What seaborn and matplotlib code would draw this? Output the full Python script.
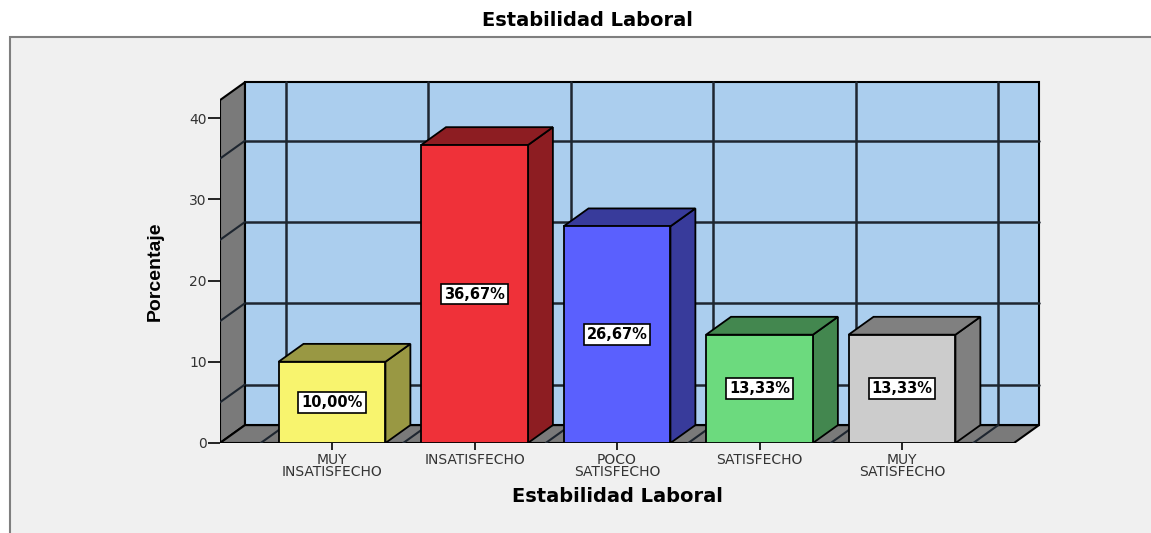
import matplotlib
matplotlib.use("Agg")
import matplotlib.pyplot as plt
from matplotlib.patches import Polygon, Rectangle
import seaborn as sns
import pandas as pd

# data
categorias = ["MUY\nINSATISFECHO", "INSATISFECHO", "POCO\nSATISFECHO", "SATISFECHO", "MUY\nSATISFECHO"]
porcentajes = [10.00, 36.67, 26.67, 13.33, 13.33]
etiquetas = ["10,00%", "36,67%", "26,67%", "13,33%", "13,33%"]
yticks = [0, 10, 20, 30, 40]
front_colors = ["#F8F46E", "#EF3139", "#5A60FE", "#6CDA7E", "#CCCCCC"]
side_colors = ["#999843", "#8D1D22", "#383B9B", "#43874F", "#808080"]

sns.set_style("white")
plt.rcParams["font.family"] = ["DejaVu Sans"]

W, H = 1151, 533
fig = plt.figure(figsize=(W / 100, H / 100), dpi=100)
fig.patch.set_facecolor("white")

# outer SPSS frame
fig.patches.append(Rectangle((10 / W, -0.05), 1.1, (H - 37) / H + 0.05, transform=fig.transFigure,
                             facecolor="#F0F0F0", edgecolor="#7F7F7F", linewidth=1.5, zorder=-5))

# axes placed so that one category = 142.5 px and 10 % = 81.25 px
x0, x1 = -0.786, 5.0
ytop = 45.9
ax = fig.add_axes([220 / W, (H - 443) / H, (x1 - x0) * 142.5 / W, ytop * 8.125 / H])
ax.set_facecolor("none")
ax.set_zorder(2)

df = pd.DataFrame({"cat": categorias, "pct": porcentajes})
sns.barplot(data=df, x="cat", y="pct", hue="cat", palette=front_colors, order=categorias,
            hue_order=categorias, legend=False, width=0.75, edgecolor="black", linewidth=1.3,
            saturation=1, ax=ax, zorder=5)

DX, DY = 0.175, 2.2      # depth of the fake 3D
wall_top = 42.2
left, right = -0.786, 4.786
grey = "#7A7A7A"
line_c = "#1E2630"

# back wall, left wall, floor
ax.add_patch(Rectangle((left + DX, DY), right - left, wall_top, facecolor="#ABCEEE",
                       edgecolor="black", linewidth=1.5, zorder=1))
ax.add_patch(Polygon([(left, 0), (left, wall_top), (left + DX, wall_top + DY), (left + DX, DY)],
                     facecolor=grey, edgecolor="black", linewidth=1.5, zorder=1.5))
ax.add_patch(Polygon([(left, 0), (right, 0), (right + DX, DY), (left + DX, DY)],
                     facecolor=grey, edgecolor="black", linewidth=1.5, zorder=1.5))

# grid on walls
for b in [i - 0.5 for i in range(len(categorias) + 1)]:
    ax.plot([b + DX, b + DX], [DY, wall_top + DY], color=line_c, lw=1.8, zorder=1.2)
    ax.plot([b, b + DX], [0, DY], color=line_c, lw=1.5, zorder=1.6)
for v in [5, 15, 25, 35]:
    ax.plot([left + DX, right + DX], [v + DY, v + DY], color=line_c, lw=1.8, zorder=1.2)
    ax.plot([left, left + DX], [v, v + DY], color=line_c, lw=1.5, zorder=1.6)

# sides, tops and value labels of the bars
for i, cont in enumerate(ax.containers):
    for bar in cont:
        bx, bw, bh = bar.get_x(), bar.get_width(), bar.get_height()
        ax.add_patch(Polygon([(bx + bw, 0), (bx + bw + DX, DY), (bx + bw + DX, bh + DY), (bx + bw, bh)],
                             facecolor=side_colors[i], edgecolor="black", linewidth=1.3, zorder=4))
        ax.add_patch(Polygon([(bx, bh), (bx + DX, bh + DY), (bx + bw + DX, bh + DY), (bx + bw, bh)],
                             facecolor=side_colors[i], edgecolor="black", linewidth=1.3, zorder=4))
        ax.text(bx + bw / 2, bh / 2, etiquetas[i], ha="center", va="center", fontsize=10.5,
                fontweight="bold", color="black", zorder=6,
                bbox=dict(boxstyle="square,pad=0.2", facecolor="white", edgecolor="black", linewidth=1.2))

ax.set_xlim(x0, x1)
ax.set_ylim(0, ytop)
for s in ax.spines.values():
    s.set_visible(False)
ax.set_yticks(yticks)
ax.set_yticklabels([str(t) for t in yticks])
ax.set_xticks(range(len(categorias)))
ax.set_xticklabels(categorias, linespacing=0.85)
ax.tick_params(axis="y", length=9, width=1.2, color="black", pad=0.5, labelsize=10, labelcolor="#333333", left=True)
ax.tick_params(axis="x", length=5, width=1.2, color="black", pad=2, labelsize=10, labelcolor="#333333", bottom=True)

ax.set_xlabel("Estabilidad Laboral", fontsize=14, fontweight="bold", color="black")
ax.xaxis.set_label_coords((617 - 220) / ((x1 - x0) * 142.5), -0.118)
ax.set_ylabel("Porcentaje", fontsize=14, fontweight="bold", color="black",
              family=["Liberation Sans Narrow", "Liberation Sans", "DejaVu Sans"])
ax.yaxis.set_label_coords(-0.068, 0.46)

fig.text(587 / W, 1 - 20 / H, "Estabilidad Laboral", ha="center", va="center",
         fontsize=14, fontweight="bold", color="black")

fig.savefig("out.png", dpi=100)
